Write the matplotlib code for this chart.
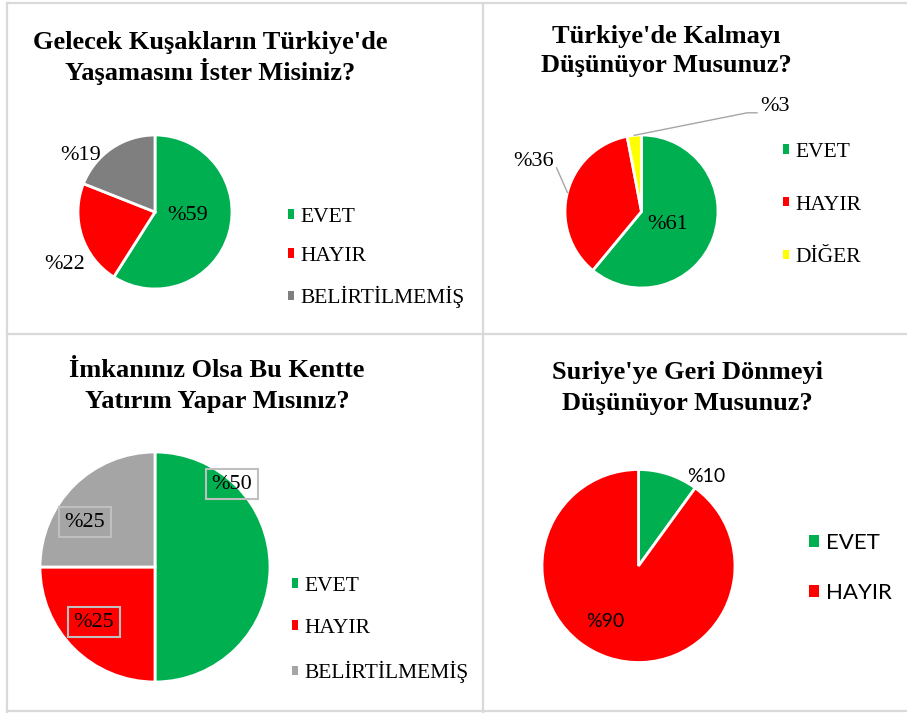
import matplotlib
matplotlib.use("Agg")
import numpy as np
import matplotlib.pyplot as plt
from matplotlib.lines import Line2D

W, H = 907, 713

GREEN = "#00B050"
RED = "#FF0000"
GRAY_DARK = "#7F7F7F"
GRAY_LIGHT = "#A5A5A5"
YELLOW = "#FFFF00"
SERIF = "Liberation Serif"
SANS = "Lato"

# data
gelecek_labels = ["EVET", "HAYIR", "BELİRTİLMEMİŞ"]
gelecek_values = [59, 22, 19]
gelecek_title = ["Gelecek Kuşakların Türkiye'de", "Yaşamasını İster Misiniz?"]

kalma_labels = ["EVET", "HAYIR", "DİĞER"]
kalma_values = [61, 36, 3]
kalma_title = ["Türkiye'de Kalmayı", "Düşünüyor Musunuz?"]

yatirim_labels = ["EVET", "HAYIR", "BELİRTİLMEMİŞ"]
yatirim_values = [50, 25, 25]
yatirim_title = ["İmkanınız Olsa Bu Kentte", "Yatırım Yapar Mısınız?"]

donme_labels = ["EVET", "HAYIR"]
donme_values = [10, 90]
donme_title = ["Suriye'ye Geri Dönmeyi", "Düşünüyor Musunuz?"]


def fx(x):
    return x / W


def fy(y):
    return 1 - y / H


fig = plt.figure(figsize=(W / 100, H / 100), dpi=100)
fig.patch.set_facecolor("white")

# panel borders
border = dict(color="#D9D9D9", lw=1.6)
for xs, ys in [((7, 7), (3, 712)), ((483, 483), (3, 712)),
               ((7, 907), (3, 3)), ((7, 907), (334, 334)), ((7, 907), (711, 711))]:
    fig.add_artist(Line2D([fx(xs[0]), fx(xs[1])], [fy(ys[0]), fy(ys[1])], **border))


def title(lines, cx, baselines):
    for txt, b in zip(lines, baselines):
        fig.text(fx(cx), fy(b), txt, ha="center", va="baseline",
                 fontsize=19, fontweight="bold", family=SERIF)


def make_pie(cx, cy, r, values, colors):
    m = 1.05
    ax = fig.add_axes([fx(cx - m * r), fy(cy + m * r), 2 * m * r / W, 2 * m * r / H])
    wedges, _, autotexts = ax.pie(values, colors=colors, startangle=90, counterclock=False,
                                  autopct=lambda p: "%" + f"{p:.0f}",
                                  wedgeprops=dict(edgecolor="white", linewidth=2))
    ax.set_xlim(-m, m)
    ax.set_ylim(-m, m)
    ax.axis("off")
    return ax, wedges, autotexts


def legend(ax, wedges, labels, x, y, size, family, spacing, hsize):
    ax.legend(wedges, labels, loc="center left", bbox_to_anchor=(fx(x), fy(y)),
              bbox_transform=fig.transFigure, frameon=False, borderpad=0,
              borderaxespad=0, handlelength=hsize, handleheight=hsize,
              handletextpad=0.3, labelspacing=spacing,
              prop=dict(family=family, size=size))
    for h in ax.get_legend().legend_handles:
        h.set_edgecolor("none")


def mid_point(w, dist=1.0):
    a = np.deg2rad((w.theta1 + w.theta2) / 2)
    return dist * np.cos(a), dist * np.sin(a)


# panel 1
title(gelecek_title, 210, [49, 80])
ax1, w1, t1 = make_pie(155, 212, 77, gelecek_values, [GREEN, RED, GRAY_DARK])
for t, pos in zip(t1, [(0.42, -0.04), (-1.17, -0.68), (-0.96, 0.73)]):
    t.set_position(pos)
    t.set_fontsize(16)
    t.set_family(SERIF)
legend(ax1, w1, gelecek_labels, 288, 258, 15.5, SERIF, 0.93, 0.3)

# panel 2
title(kalma_title, 666, [43, 72])
ax2, w2, t2 = make_pie(641.5, 211.5, 76.5, kalma_values, [GREEN, RED, YELLOW])
for t, pos in zip(t2, [(0.34, -0.17), (-1.41, 0.66), (1.74, 1.37)]):
    t.set_position(pos)
    t.set_fontsize(16)
    t.set_family(SERIF)
lead = dict(color="#A6A6A6", lw=1, clip_on=False)
sx, sy = mid_point(w2[1])
ax2.plot([sx, -1.11], [sy, 0.57], **lead)
sx, sy = mid_point(w2[2])
ax2.plot([sx, 1.38, 1.51], [sy, 1.29, 1.29], **lead)
legend(ax2, w2, kalma_labels, 783, 205, 15.5, SERIF, 1.57, 0.3)

# panel 3
title(yatirim_title, 217, [377, 408])
ax3, w3, t3 = make_pie(155, 567, 115, yatirim_values, [GREEN, RED, GRAY_LIGHT])
for t, pos in zip(t3, [(0.67, 0.72), (-0.53, -0.48), (-0.61, 0.39)]):
    t.set_position(pos)
    t.set_fontsize(16)
    t.set_family(SERIF)
    t.set_bbox(dict(boxstyle="square,pad=0.25", fc="none", ec="#BFBFBF", lw=1.5))
legend(ax3, w3, yatirim_labels, 292, 630, 15.5, SERIF, 1.08, 0.3)

# panel 4
title(donme_title, 687, [379, 410])
ax4, w4, t4 = make_pie(638.5, 566, 96.5, donme_values, [GREEN, RED])
for t, pos in zip(t4, [(0.70, 0.93), (-0.34, -0.57)]):
    t.set_position(pos)
    t.set_fontsize(14)
    t.set_family(SANS)
legend(ax4, w4, donme_labels, 809, 568, 16, SANS, 1.34, 0.45)

fig.savefig("out.png", dpi=100, facecolor="white")
